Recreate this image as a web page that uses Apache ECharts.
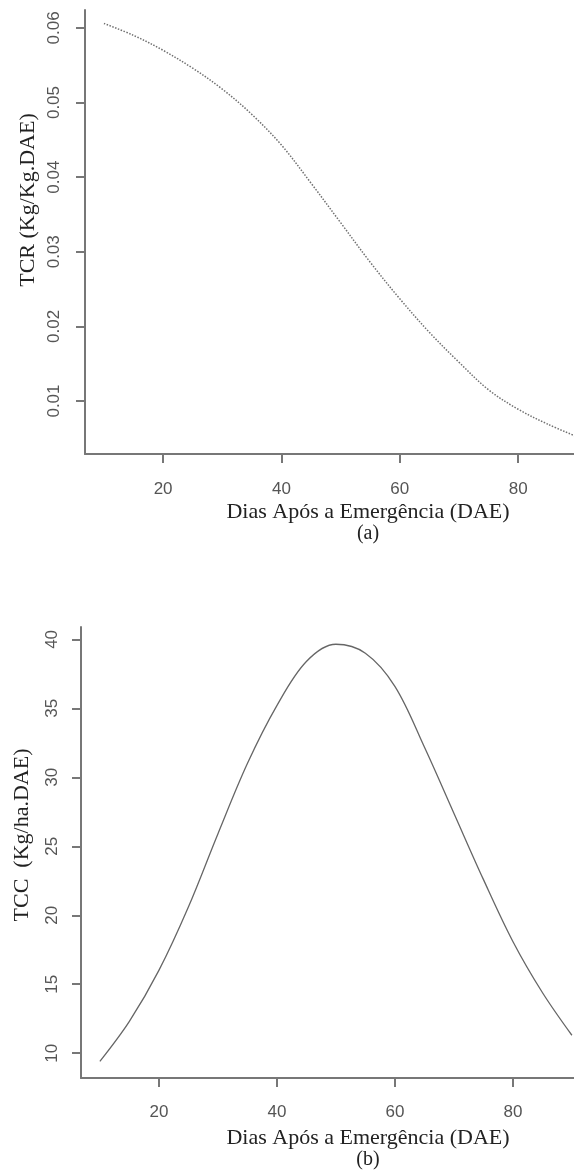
<!DOCTYPE html>
<html>
<head>
<meta charset="utf-8">
<script src="https://cdn.jsdelivr.net/npm/echarts@6/dist/echarts.min.js"></script>
<style>
  html, body { margin: 0; padding: 0; background: #fff; }
  #chart { width: 574px; height: 1172px; }
</style>
</head>
<body>
<div id="chart"></div>
<script>
// Days after emergence (DAE)
const days = [10, 15, 20, 25, 30, 35, 40, 45, 50, 55, 60, 65, 70, 75, 80, 85, 90];
// (a) relative growth rate, kg/kg per day
const tcr = [0.0606, 0.0590, 0.0570, 0.0546, 0.0518, 0.0484, 0.0443, 0.0392, 0.0339,
             0.0286, 0.0237, 0.0192, 0.0152, 0.0115, 0.0089, 0.0069, 0.0052];
// (b) crop growth rate, kg/ha per day
const tcc = [9.4, 12.3, 16.0, 20.6, 25.9, 31.0, 35.2, 38.4, 39.65,
             39.0, 36.6, 32.2, 27.4, 22.6, 18.1, 14.4, 11.3];

const xTicks = [20, 40, 60, 80];
const tcrTicks = [0.01, 0.02, 0.03, 0.04, 0.05, 0.06];
const tccTicks = [10, 15, 20, 25, 30, 35, 40];

const axisGray = '#777';
const labelGray = '#555';
const textDark = '#222';
const sans = '"Liberation Sans", Arial, sans-serif';
const serif = '"Liberation Serif", "Times New Roman", serif';

function xAxisCfg(gridIndex, min, max, margin) {
  return {
    type: 'value', gridIndex, min, max,
    axisLine: { show: true, onZero: false, lineStyle: { color: axisGray, width: 2 } },
    axisTick: { show: true, length: 9, customValues: xTicks, lineStyle: { color: axisGray, width: 2 } },
    axisLabel: { customValues: xTicks, margin, color: labelGray, fontFamily: sans, fontSize: 17 },
    splitLine: { show: false }
  };
}
function yAxisCfg(gridIndex, min, max, ticks, fmt, margin) {
  return {
    type: 'value', gridIndex, min, max,
    axisLine: { show: true, onZero: false, lineStyle: { color: axisGray, width: 2 } },
    axisTick: { show: true, length: 9, customValues: ticks, lineStyle: { color: axisGray, width: 2 } },
    axisLabel: { customValues: ticks, rotate: 90, margin, color: labelGray, fontFamily: sans, fontSize: 17,
                 formatter: fmt },
    splitLine: { show: false }
  };
}

const chart = echarts.init(document.getElementById('chart'), null, { renderer: 'canvas' });
chart.setOption({
  animation: false,
  backgroundColor: '#fff',
  grid: [
    { left: 85, top: 10, width: 489, height: 444 },
    { left: 81, top: 627, width: 493, height: 451 }
  ],
  xAxis: [
    xAxisCfg(0, 6.8, 89.44, 27),
    xAxisCfg(1, 6.8, 90.36, 26)
  ],
  yAxis: [
    yAxisCfg(0, 0.0029, 0.0624, tcrTicks, v => v.toFixed(2), 22),
    yAxisCfg(1, 8.2, 40.9, tccTicks, v => String(v), 20)
  ],
  series: [
    {
      type: 'line', xAxisIndex: 0, yAxisIndex: 0,
      data: days.map((d, i) => [d, tcr[i]]),
      smooth: 0.35, showSymbol: false, clip: true,
      lineStyle: { color: '#707070', width: 1.5, type: 'dotted' }
    },
    {
      type: 'line', xAxisIndex: 1, yAxisIndex: 1,
      data: days.map((d, i) => [d, tcc[i]]),
      smooth: 0.35, showSymbol: false, clip: true,
      lineStyle: { color: '#666', width: 1.3 }
    }
  ],
  graphic: [
    { type: 'text', x: 28, y: 200, rotation: Math.PI / 2,
      style: { text: 'TCR (Kg/Kg.DAE)', fill: textDark, font: '22px ' + serif,
               textAlign: 'center', textVerticalAlign: 'middle' } },
    { type: 'text', x: 368, y: 512,
      style: { text: 'Dias Após a Emergência (DAE)', fill: textDark, font: '22px ' + serif,
               textAlign: 'center', textVerticalAlign: 'middle' } },
    { type: 'text', x: 368, y: 534,
      style: { text: '(a)', fill: textDark, font: '20px ' + serif,
               textAlign: 'center', textVerticalAlign: 'middle' } },
    { type: 'text', x: 22, y: 835, rotation: Math.PI / 2,
      style: { text: 'TCC  (Kg/ha.DAE)', fill: textDark, font: '22px ' + serif,
               textAlign: 'center', textVerticalAlign: 'middle' } },
    { type: 'text', x: 368, y: 1138,
      style: { text: 'Dias Após a Emergência (DAE)', fill: textDark, font: '22px ' + serif,
               textAlign: 'center', textVerticalAlign: 'middle' } },
    { type: 'text', x: 368, y: 1160,
      style: { text: '(b)', fill: textDark, font: '20px ' + serif,
               textAlign: 'center', textVerticalAlign: 'middle' } }
  ]
});
</script>
</body>
</html>
